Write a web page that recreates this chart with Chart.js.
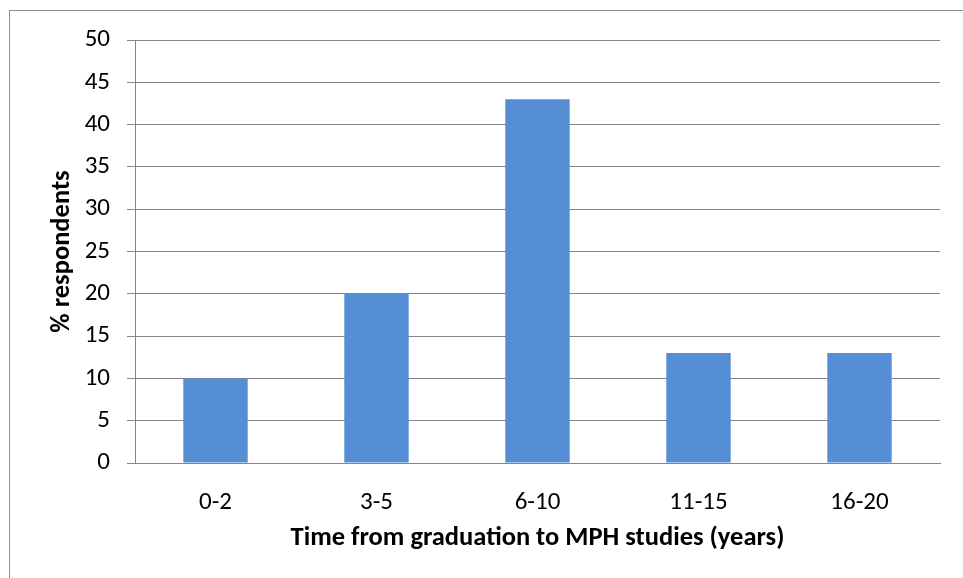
<!DOCTYPE html>
<html>
<head>
<meta charset="utf-8">
<script src="https://cdn.jsdelivr.net/npm/chart.js"></script>
<style>
  html, body { margin: 0; padding: 0; background: #fff; }
  #wrap { width: 963px; height: 578px; position: relative; }
</style>
</head>
<body>
<div id="wrap"><canvas id="myChart" width="963" height="578"></canvas></div>
<script>
// data
const categories = ['0-2', '3-5', '6-10', '11-15', '16-20'];
const respondents = [10, 20, 43, 13, 13];
const yTicks = [0, 5, 10, 15, 20, 25, 30, 35, 40, 45, 50];

const FONT = 'Carlito, Lato, "Open Sans", sans-serif';
const GRID = '#868686';

// outer frame of the chart object
const framePlugin = {
  id: 'frame',
  beforeDraw(chart) {
    const ctx = chart.ctx;
    ctx.save();
    ctx.fillStyle = '#fff';
    ctx.fillRect(0, 0, chart.width, chart.height);
    ctx.strokeStyle = '#8e8e8e';
    ctx.lineWidth = 1;
    ctx.strokeRect(9.5, 10.5, 1000, 1000);
    ctx.restore();
  }
};

const data = {
  labels: categories,
  datasets: [{
    label: '% respondents',
    data: respondents,
    backgroundColor: '#558ED5',
    borderWidth: 0,
    barPercentage: 0.4,
    categoryPercentage: 1.0
  }]
};

const config = {
  type: 'bar',
  data: data,
  plugins: [framePlugin],
  options: {
    responsive: false,
    animation: false,
    layout: { padding: { top: 40, right: 23, bottom: 0, left: 0 } },
    plugins: {
      legend: { display: false },
      tooltip: { enabled: false }
    },
    scales: {
      x: {
        afterFit(scale) { scale.height = 115; },
        grid: { display: false, drawTicks: false },
        border: { display: true, color: GRID, width: 1 },
        ticks: {
          color: '#000',
          padding: 25,
          maxRotation: 0,
          font: { family: FONT, size: 25, lineHeight: 1.2 }
        },
        title: {
          display: true,
          text: 'Time from graduation to MPH studies (years)',
          color: '#000',
          padding: { top: 0, bottom: 24 },
          font: { family: FONT, size: 26.5, weight: 'bold', lineHeight: 1.2 }
        }
      },
      y: {
        min: 0,
        max: 50,
        afterFit(scale) { scale.width = 135; },
        afterBuildTicks(scale) { scale.ticks = yTicks.map(v => ({ value: v })); },
        grid: { color: GRID, lineWidth: 1, tickLength: 8, tickColor: GRID },
        border: { display: true, color: GRID, width: 1 },
        ticks: {
          color: '#000',
          padding: 17,
          font: { family: FONT, size: 25, lineHeight: 1.2 }
        },
        title: {
          display: true,
          text: '% respondents',
          color: '#000',
          padding: { top: 46, bottom: 0 },
          font: { family: FONT, size: 26.5, weight: 'bold', lineHeight: 1.2 }
        }
      }
    }
  }
};

var myChart = new Chart(document.getElementById('myChart'), config);
</script>
</body>
</html>
